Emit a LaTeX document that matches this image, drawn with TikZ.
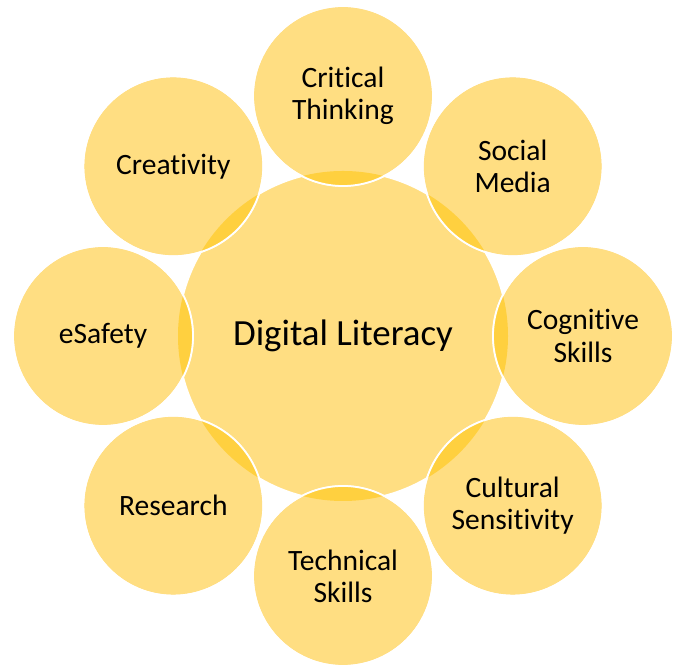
\documentclass[tikz,border=0pt]{standalone}
\usepackage{fontspec}
\setmainfont{Carlito}[Ligatures=NoCommon]
\usetikzlibrary{positioning}
\definecolor{petal}{HTML}{FFDE82}
\definecolor{lens}{HTML}{FFD03F}

\tikzset{
    hub/.style={circle, fill=petal, draw=white, line width=1pt, minimum size=6.6cm, inner sep=0pt, font=\fontsize{21}{25}\selectfont},
    petalnode/.style={circle, fill=petal, draw=white, line width=1pt, minimum size=3.6cm, inner sep=0pt, align=center, font=\fontsize{16.8}{18.3}\selectfont},
    rim/.style={draw=white, line width=1pt}
}

\begin{document}
\begin{tikzpicture}
            \useasboundingbox (0,0) rectangle (13.6,13.32);

            \node[hub] (dl) at (6.86, 6.6) {Digital Literacy};

            \node[petalnode] (ct) at (6.86, 11.4) {Critical\\Thinking};
            \node[petalnode] (sm) at (10.254, 9.994) {Social\\Media};
            \node[petalnode] (cs) at (11.66, 6.6) {Cognitive\\Skills};
            \node[petalnode] (cu) at (10.254, 3.206) {Cultural\\Sensitivity};
            \node[petalnode] (ts) at (6.86, 1.8) {Technical\\Skills};
            \node[petalnode] (re) at (3.466, 3.206) {Research};
            \node[petalnode] (es) at (2.06, 6.6) {eSafety};
            \node[petalnode] (cr) at (3.466, 9.994) {Creativity};

            % darker where the petals cover the hub
            \begin{scope}
                \clip (dl.center) circle (3.3);
                \fill[lens] (ct.center) circle (1.8);
                \fill[lens] (sm.center) circle (1.8);
                \fill[lens] (cs.center) circle (1.8);
                \fill[lens] (cu.center) circle (1.8);
                \fill[lens] (ts.center) circle (1.8);
                \fill[lens] (re.center) circle (1.8);
                \fill[lens] (es.center) circle (1.8);
                \fill[lens] (cr.center) circle (1.8);
            \end{scope}

            \draw[rim] (ct.center) circle (1.8);
            \draw[rim] (sm.center) circle (1.8);
            \draw[rim] (cs.center) circle (1.8);
            \draw[rim] (cu.center) circle (1.8);
            \draw[rim] (ts.center) circle (1.8);
            \draw[rim] (re.center) circle (1.8);
            \draw[rim] (es.center) circle (1.8);
            \draw[rim] (cr.center) circle (1.8);
        \end{tikzpicture}
\end{document}
